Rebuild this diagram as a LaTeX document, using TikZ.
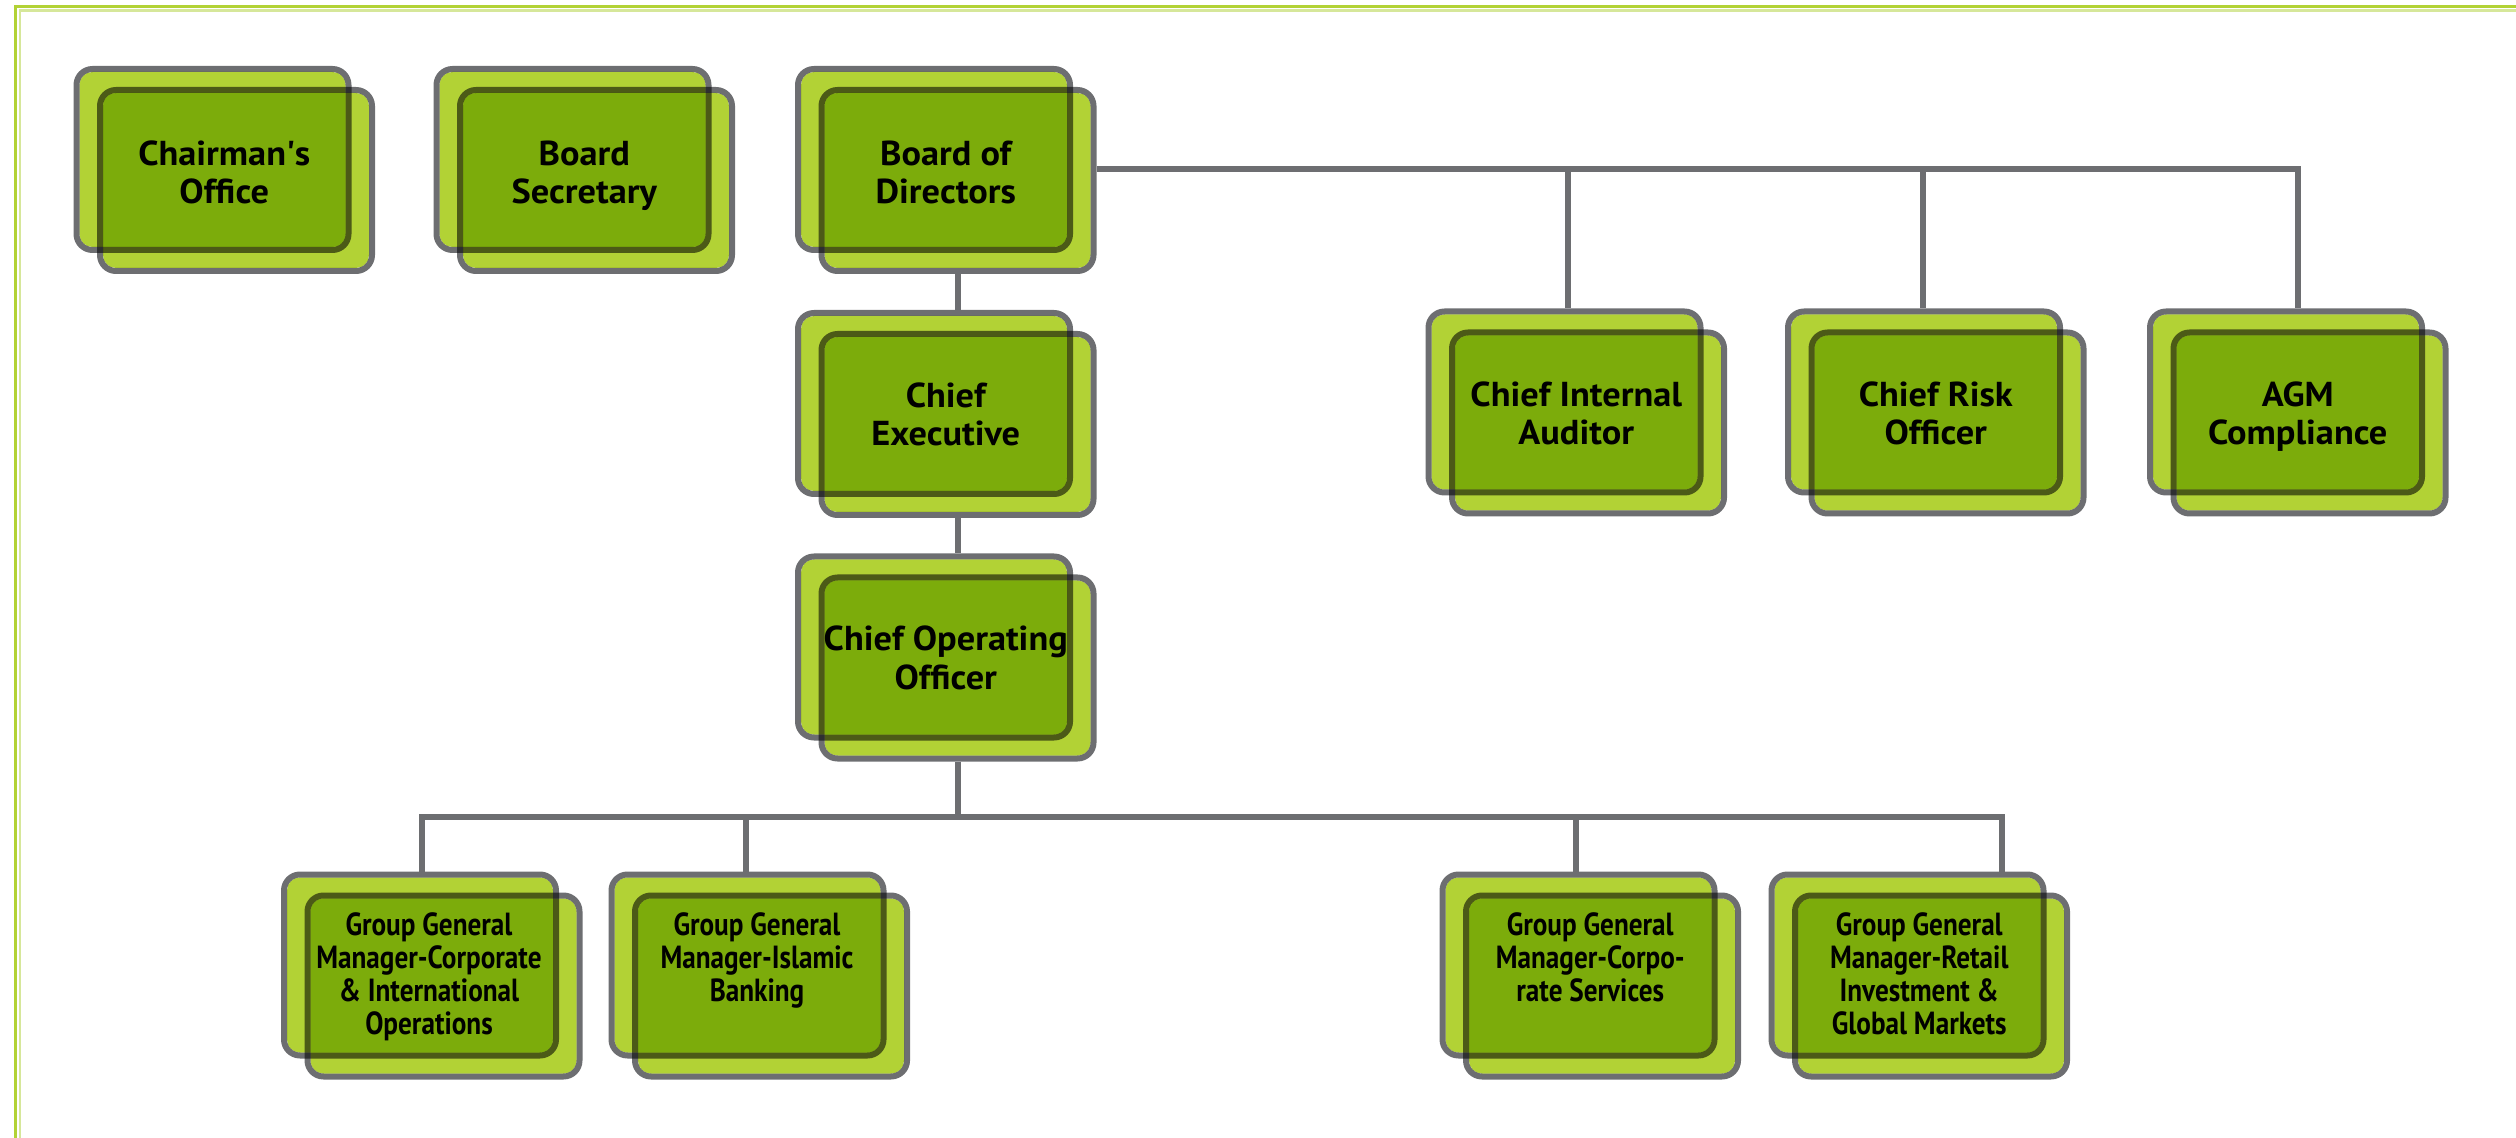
\documentclass[tikz,border=0pt]{standalone}
\usepackage{fontspec}
\setmainfont{PT Sans}
\newfontfamily\narrowfont{PT Sans}[FakeStretch=0.85]
\newfontfamily\widefont{PT Sans}[FakeStretch=1.05]
\usetikzlibrary{calc}
\definecolor{lightg}{HTML}{B2D235}
\definecolor{linegray}{HTML}{6D6E71}
\definecolor{framepale}{HTML}{D6E79A}
\tikzset{
  boxfill/.style={rectangle, draw=none, fill=lightg, rounded corners=6.5pt, minimum width=133pt, minimum height=87.5pt, inner sep=0pt, outer sep=0pt},
  boxline/.style={rectangle, draw=linegray, line width=3pt, rounded corners=8pt, minimum width=136pt, minimum height=90.5pt, inner sep=0pt},
  conn/.style={draw=linegray, line width=3pt},
  toplabel/.style={align=center, inner sep=0pt, font=\widefont\fontsize{17.3pt}{19.25pt}\selectfont\bfseries},
  lowlabel/.style={align=center, inner sep=0pt, anchor=north, font=\narrowfont\fontsize{16pt}{16.5pt}\selectfont\bfseries},
}
\newcommand{\orgbox}[3]{%
  \node[boxfill] (#1Af) at (#2,#3) {};
  \node[boxfill] (#1Bf) at ($(#2,#3)+(23.5,21)$) {};
  \node[boxline] (#1A) at (#2,#3) {};
  \node[boxline] (#1B) at ($(#2,#3)+(23.5,21)$) {};
}
\begin{document}
\begin{tikzpicture}[x=0.5pt,y=-0.5pt]
\useasboundingbox (0,0) rectangle (2516,1138);
% frame
\draw[lightg, line width=1.65pt] (15.5,1140) -- (15.5,6.5) -- (2520,6.5);
\draw[framepale, line width=1.1pt] (20,1140) -- (20,10.5) -- (2520,10.5);
% boxes
\begin{scope}[blend mode=multiply]
\orgbox{chair}{212.5}{159.5}
\orgbox{sec}{572.5}{159.5}
\orgbox{bod}{934}{159.5}
\orgbox{ce}{934}{403.5}
\orgbox{coo}{934}{647}
\orgbox{cia}{1564.5}{402}
\orgbox{cro}{1924}{402}
\orgbox{agm}{2286}{402}
\orgbox{gone}{420}{965}
\orgbox{gtwo}{747.5}{965}
\orgbox{gthree}{1578.5}{965}
\orgbox{gfour}{1907.5}{965}
\end{scope}
% connectors
\coordinate (tr) at (2298,169);
\coordinate (dOne) at (1568,169);
\coordinate (dTwo) at (1923,169);
\draw[conn] (bodB.east |- tr) -- (tr) -- (tr |- agmA.north);
\draw[conn] (dOne) -- (dOne |- ciaA.north);
\draw[conn] (dTwo) -- (dTwo |- croA.north);
\draw[conn] (bodB.south) -- (bodB.south |- ceA.north);
\draw[conn] (ceB.south) -- (ceB.south |- cooA.north);
\coordinate (bl) at (422,817);
\coordinate (br) at (2002,817);
\coordinate (bmOne) at (745.5,817);
\coordinate (bmTwo) at (1576,817);
\draw[conn] (cooB.south) -- (cooB.south |- bl);
\draw[conn] (bl |- goneA.north) -- (bl) -- (br) -- (br |- gfourA.north);
\draw[conn] (bmOne) -- (bmOne |- gtwoA.north);
\draw[conn] (bmTwo) -- (bmTwo |- gthreeA.north);
% labels
\node[toplabel] (chairT) at (224.25,177) {\strut Chairman\textquotesingle s\\Office\strut};
\node[toplabel] (secT) at (584.25,177) {\strut Board\\Secretary\strut};
\node[toplabel] (bodT) at (945.75,177) {\strut Board of\\Directors\strut};
\node[toplabel] (ceT) at (945.75,419) {\strut Chief\\Executive\strut};
\node[toplabel] (cooT) at (945.75,662.5) {\strut Chief Operating\\Officer\strut};
\node[toplabel] (ciaT) at (1576.25,418) {\strut Chief Internal\\Auditor\strut};
\node[toplabel] (croT) at (1935.75,418) {\strut Chief Risk\\Officer\strut};
\node[toplabel] (agmT) at (2297.75,418) {\strut AGM\\Compliance\strut};
\node[lowlabel] (goneT) at (429,912) {Group General\\Manager-Corporate\\\& International\\Operations};
\node[lowlabel] (gtwoT) at (757,912) {Group General\\Manager-Islamic\\Banking};
\node[lowlabel] (gthreeT) at (1590.25,912) {Group General\\Manager-Corpo-\\rate Services};
\node[lowlabel] (gfourT) at (1919.25,912) {Group General\\Manager-Retail\\Investment \&\\Global Markets};
\end{tikzpicture}
\end{document}
